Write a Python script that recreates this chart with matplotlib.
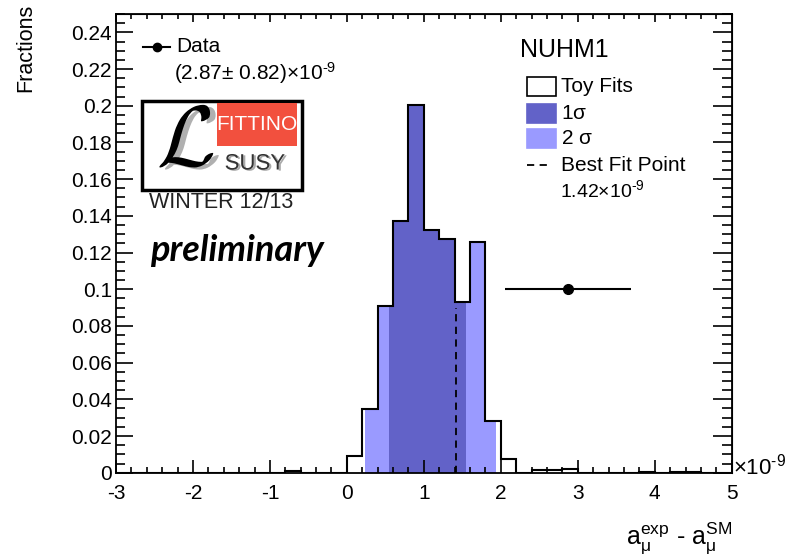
from matplotlib import pyplot as plt
from matplotlib.patches import Rectangle
from matplotlib.ticker import MultipleLocator
import matplotlib.patheffects as pe
import numpy as np

# histogram of toy fits, 40 bins of width 0.2 from -3 to 5 (units of 1e-9)
binLow = -3.0
binHigh = 5.0
nBins = 40
fractions = [0, 0, 0, 0, 0, 0, 0, 0, 0, 0,
             0, 0.001, 0, 0, 0,
             0.0091, 0.0346, 0.0909, 0.1373, 0.2005, 0.1324, 0.1275, 0.0931, 0.126, 0.0282,
             0.0073, 0, 0.0013, 0.0013, 0.0022, 0, 0, 0, 0, 0.0005,
             0, 0.0005, 0.0005, 0, 0]

oneSigma = (0.541, 1.543)
twoSigma = (0.229, 1.937)
bestFit = 1.42
bestFitTop = 0.09
dataValue = 2.87
dataError = 0.82
dataY = 0.1

darkBlue = "#6262c8"
lightBlue = "#9a9aff"

W, H = 798, 555
TIMES9 = r"$\mathregular{\times10^{\text{-}9}}$"


def px(x, y):
    return x / W, 1 - y / H


def bandFill(ax, edges, values, lo, hi, color):
    xs = [lo] + [e for e in edges if lo < e < hi] + [hi]
    ys = []
    for x in xs:
        i = int(np.searchsorted(edges, x, side="right") - 1)
        i = min(max(i, 0), len(values) - 1)
        ys.append(values[i])
    ax.fill_between(xs, ys, step="post", color=color, linewidth=0)


def plot():
    plt.rcParams["font.family"] = ["Liberation Sans", "DejaVu Sans"]
    plt.rcParams["mathtext.fontset"] = "custom"
    plt.rcParams["mathtext.rm"] = "Liberation Sans"
    plt.rcParams["mathtext.it"] = "Liberation Sans:italic"
    plt.rcParams["mathtext.bf"] = "Liberation Sans:bold"
    plt.rcParams["axes.unicode_minus"] = False

    fig = plt.figure(figsize=(W / 100, H / 100), dpi=100)
    l, t = px(116, 14)
    r, b = px(731.7, 472.7)
    ax = fig.add_axes([l, b, r - l, t - b])

    edges = np.linspace(binLow, binHigh, nBins + 1)
    values = np.array(fractions, dtype=float)

    bandFill(ax, edges, values, twoSigma[0], twoSigma[1], lightBlue)
    bandFill(ax, edges, values, oneSigma[0], oneSigma[1], darkBlue)
    ax.stairs(values, edges, color="black", linewidth=1.5, baseline=0)
    ax.plot([bestFit, bestFit], [0, bestFitTop], color="black", linestyle=(0, (4, 3)), linewidth=1.3)

    ax.errorbar([dataValue], [dataY], xerr=[dataError], fmt="o", color="black",
                markersize=7, elinewidth=1.5, capsize=0)

    ax.set_xlim(binLow, binHigh)
    ax.set_ylim(0, 0.25)
    ax.xaxis.set_major_locator(MultipleLocator(1))
    ax.xaxis.set_minor_locator(MultipleLocator(0.2))
    ax.yaxis.set_minor_locator(MultipleLocator(0.005))
    yt = np.round(np.arange(0, 0.241, 0.02), 2)
    ax.set_yticks(yt)
    ax.set_yticklabels(["%g" % v for v in yt])

    ax.tick_params(axis="x", which="major", direction="in", length=9.1, width=1.2, pad=8, labelsize=15)
    ax.tick_params(axis="x", which="minor", direction="in", length=4.5, width=1.2)
    ax.tick_params(axis="y", which="major", direction="in", length=12, width=1.2, pad=3, labelsize=15)
    ax.tick_params(axis="y", which="minor", direction="in", length=6.5, width=1.2)
    for s in ax.spines.values():
        s.set_linewidth(1.3)

    top = ax.secondary_xaxis("top")
    top.xaxis.set_major_locator(MultipleLocator(1))
    top.xaxis.set_minor_locator(MultipleLocator(0.2))
    top.tick_params(which="major", direction="in", length=5.5, width=1.2, labeltop=False)
    top.tick_params(which="minor", direction="in", length=3.5, width=1.2)
    right = ax.secondary_yaxis("right")
    right.yaxis.set_major_locator(MultipleLocator(0.02))
    right.yaxis.set_minor_locator(MultipleLocator(0.005))
    right.tick_params(which="major", direction="in", length=14, width=1.2, labelright=False)
    right.tick_params(which="minor", direction="in", length=7, width=1.2)

    # axis titles
    fig.text(*px(26, 4), "Fractions", rotation=90, ha="center", va="top", fontsize=15.5)
    fig.text(*px(732, 544), r"$\mathregular{a_{\mu}^{exp}}$ - $\mathregular{a_{\mu}^{SM}}$",
             ha="right", va="baseline", fontsize=18)
    fig.text(*px(733, 474), TIMES9, ha="left", va="baseline", fontsize=16)

    # data legend
    fig.add_artist(plt.Line2D([143 / W, 170 / W], [1 - 46.7 / H] * 2, color="black", linewidth=1.5))
    fig.add_artist(plt.Line2D([157 / W], [1 - 46.7 / H], marker="o", color="black", markersize=6))
    fig.text(*px(176, 47), "Data", ha="left", va="center", fontsize=15)
    fig.text(*px(174, 73), r"(2.87$\mathregular{\pm}$ 0.82)" + TIMES9,
             ha="left", va="center", fontsize=15)

    # right legend
    fig.text(*px(520, 50), "NUHM1", ha="left", va="center", fontsize=18)
    boxes = [(76.7, 96, "white", "Toy Fits"), (104, 123.3, darkBlue, "1$\\mathregular{\\sigma}$"),
             (129.3, 148.3, lightBlue, "2 $\\mathregular{\\sigma}$")]
    for y0, y1, c, lab in boxes:
        x0, yb = px(527, y1)
        fig.add_artist(Rectangle((x0, yb), 29 / W, (y1 - y0) / H, transform=fig.transFigure,
                                 facecolor=c, edgecolor="black" if c == "white" else c, linewidth=1.2))
        fig.text(*px(561, (y0 + y1) / 2), lab, ha="left", va="center", fontsize=15)
    fig.add_artist(plt.Line2D([527 / W, 551 / W], [1 - 165 / H] * 2, color="black",
                              linestyle=(0, (4, 3)), linewidth=1.3))
    fig.text(*px(561, 165), "Best Fit Point", ha="left", va="center", fontsize=15)
    fig.text(*px(560, 190), "1.42" + TIMES9, ha="left", va="center", fontsize=14)

    # Fittino logo
    x0, y0 = px(141.7, 190)
    fig.add_artist(Rectangle((x0, y0), 160 / W, 89.3 / H, transform=fig.transFigure,
                             facecolor="white", edgecolor="black", linewidth=2.5))
    x0, y0 = px(217.3, 146)
    fig.add_artist(Rectangle((x0, y0), 80 / W, 43 / H, transform=fig.transFigure,
                             facecolor="#f2503e", edgecolor="none"))
    fig.text(*px(257, 125), "FITTINO", ha="center", va="center", fontsize=15, color="white",
             family=["Liberation Sans Narrow", "Liberation Sans"])
    shadow = [pe.withSimplePatchShadow(offset=(1.5, -0.8), shadow_rgbFace="#aaaaaa", alpha=1)]
    fig.text(*px(255, 164), "SUSY", ha="center", va="center", fontsize=16, color="#333333",
             path_effects=shadow)
    shadowL = [pe.withSimplePatchShadow(offset=(4, -1.5), shadow_rgbFace="#b0b0b0", alpha=1)]
    fig.text(*px(186, 144), r"$\mathcal{L}$", ha="center", va="center", fontsize=62,
             color="black", math_fontfamily="cm", path_effects=shadowL)
    fig.text(*px(221, 202), "WINTER 12/13", ha="center", va="center", fontsize=15.5, color="#222222")
    fig.text(*px(237, 250), "preliminary", ha="center", va="center", fontsize=26,
             family=["Lato", "DejaVu Sans"], weight="bold", style="italic")

    fig.savefig("out.png", dpi=100)


if __name__ == "__main__":
    plot()
